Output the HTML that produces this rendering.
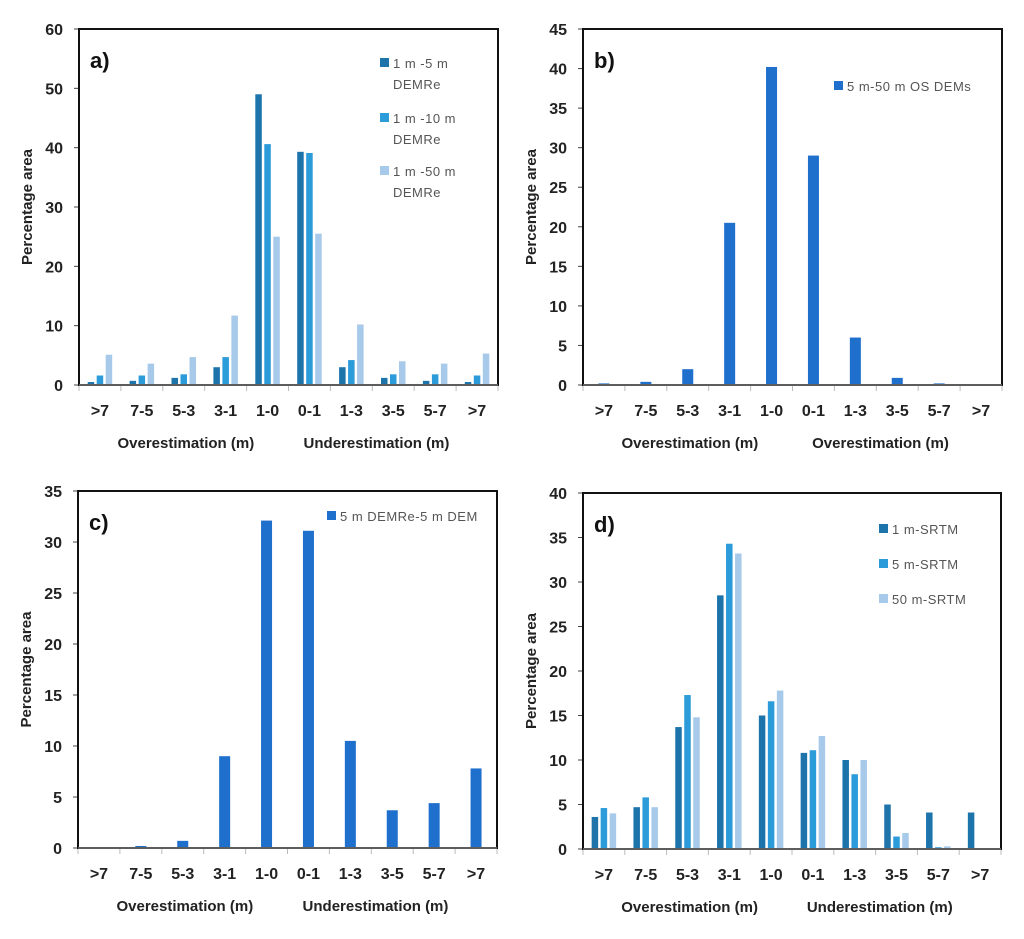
<!DOCTYPE html>
<html><head><meta charset="utf-8"><style>
html,body{margin:0;padding:0;background:#fff;}
svg{display:block;font-family:"Liberation Sans",sans-serif;}
</style></head><body>
<svg id="fig" width="1024" height="939" viewBox="0 0 1024 939"></svg>
<script>
const categories = [">7","7-5","5-3","3-1","1-0","0-1","1-3","3-5","5-7",">7"];
const aSeries1 = [0.5,0.7,1.2,3,49,39.3,3,1.2,0.7,0.5];
const aSeries2 = [1.6,1.6,1.8,4.7,40.6,39.1,4.2,1.8,1.8,1.6];
const aSeries3 = [5.1,3.6,4.7,11.7,25,25.5,10.2,4,3.6,5.3];
const aTicks = [0,10,20,30,40,50,60];
const bSeries = [0.2,0.4,2,20.5,40.2,29,6,0.9,0.2,0];
const bTicks = [0,5,10,15,20,25,30,35,40,45];
const cSeries = [0,0.2,0.7,9,32.1,31.1,10.5,3.7,4.4,7.8];
const cTicks = [0,5,10,15,20,25,30,35];
const dSeries1 = [3.6,4.7,13.7,28.5,15,10.8,10,5,4.1,4.1];
const dSeries2 = [4.6,5.8,17.3,34.3,16.6,11.1,8.4,1.4,0.2,0];
const dSeries3 = [4,4.7,14.8,33.2,17.8,12.7,10,1.8,0.3,0];
const dTicks = [0,5,10,15,20,25,30,35,40];

const NS="http://www.w3.org/2000/svg";
const svg=document.getElementById('fig');
function mk(tag,attrs,parent,text){const e=document.createElementNS(NS,tag);for(const k in attrs)e.setAttribute(k,attrs[k]);if(text!==undefined)e.textContent=text;(parent||svg).appendChild(e);return e;}

function panel(p){
  const g=mk('g',{});
  
  
  const W=p.r-p.l,H=p.b-p.t,max=p.ticks[p.ticks.length-1];
  const y=v=>p.b-v/max*H;
  const bw=W/categories.length;
  const x=i=>p.l+bw*(i+0.5);
  p.ticks.forEach(t=>{
    const tl=mk('text',{x:p.l-16,y:y(t)+6,'text-anchor':'end','font-size':16,'font-weight':'bold',fill:'#222'},g,String(t));
    
    
    mk('line',{x1:p.l-5,x2:p.l,y1:y(t),y2:y(t),stroke:'#444','stroke-width':1},g);
  });
  const n=p.series.length;
  p.series.forEach((s,si)=>{
    s.vals.forEach((v,i)=>{
      const cx=x(i)+(si-(n-1)/2)*p.pitch;
      const r=mk('rect',{x:cx-p.barW/2,y:y(v),width:p.barW,height:p.b-y(v),fill:s.color},g);
      
      
    });
  });
  for(let i=0;i<=categories.length;i++){
    mk('line',{x1:p.l+bw*i,x2:p.l+bw*i,y1:p.b,y2:p.b+6,stroke:'#bbb','stroke-width':1},g);
  }
  categories.forEach((c,i)=>{
    const tl=mk('text',{x:x(i),y:p.b+31,'text-anchor':'middle','font-size':16,'font-weight':'bold',fill:'#222'},g,c);
    
    
  });
  mk('rect',{x:p.l,y:p.t,width:W,height:H,fill:'none',stroke:'#111','stroke-width':2},g);
  mk('line',{x1:p.l,x2:p.r,y1:p.b,y2:p.b,stroke:'#777','stroke-width':1.5},g);
  const cy=(p.t+p.b)/2;
  const yt=mk('text',{x:0,y:0,transform:`translate(${p.l-47},${cy}) rotate(-90)`,'text-anchor':'middle','font-size':15,'font-weight':'bold',fill:'#222'},g,'Percentage area');
  
  
  const x1=mk('text',{x:p.l+bw*2.55,y:p.b+63,'text-anchor':'middle','font-size':15,'font-weight':'bold',fill:'#222'},g,'Overestimation (m)');
  
  
  const x2=mk('text',{x:p.l+bw*7.1,y:p.b+63,'text-anchor':'middle','font-size':15,'font-weight':'bold',fill:'#222'},g,p.rightTitle);
  
  
  const lt=mk('text',{x:p.l+11,y:p.t+39,'font-size':22,'font-weight':'bold',fill:'#111'},g,p.id+')');
  
  
  p.legend.forEach((L,li)=>{
    const le=mk('g',{},g);
    
    
    mk('rect',{x:L.x,y:L.y-5,width:9,height:9,fill:p.series[li].color},le);
    L.lines.forEach((t,k)=>{
      mk('text',{x:L.x+13,y:L.y+5+k*21,'font-size':13,fill:'#555','letter-spacing':'0.5'},le,t);
    });
  });
}
const c1='#1d74ab',c2='#2b9bd9',c3='#a7c9ea',cb='#1f6fcd';
panel({id:'a',l:79,t:29,r:498,b:385,ticks:aTicks,barW:6.5,pitch:9,rightTitle:'Underestimation (m)',
  series:[{vals:aSeries1,color:c1},{vals:aSeries2,color:c2},{vals:aSeries3,color:c3}],
  legend:[{x:380,y:63,lines:['1 m -5 m','DEMRe']},{x:380,y:118,lines:['1 m -10 m','DEMRe']},{x:380,y:171,lines:['1 m -50 m','DEMRe']}]});
panel({id:'b',l:583,t:29,r:1002,b:385,ticks:bTicks,barW:11,pitch:0,rightTitle:'Overestimation (m)',
  series:[{vals:bSeries,color:cb}],legend:[{x:834,y:86,lines:['5 m-50 m OS DEMs']}]});
panel({id:'c',l:78,t:491,r:497,b:848,ticks:cTicks,barW:11,pitch:0,rightTitle:'Underestimation (m)',
  series:[{vals:cSeries,color:cb}],legend:[{x:327,y:516,lines:['5 m DEMRe-5 m DEM']}]});
panel({id:'d',l:583,t:493,r:1001,b:849,ticks:dTicks,barW:6.5,pitch:9,rightTitle:'Underestimation (m)',
  series:[{vals:dSeries1,color:c1},{vals:dSeries2,color:c2},{vals:dSeries3,color:c3}],
  legend:[{x:879,y:529,lines:['1 m-SRTM']},{x:879,y:564,lines:['5 m-SRTM']},{x:879,y:599,lines:['50 m-SRTM']}]});
</script>
</body></html>
